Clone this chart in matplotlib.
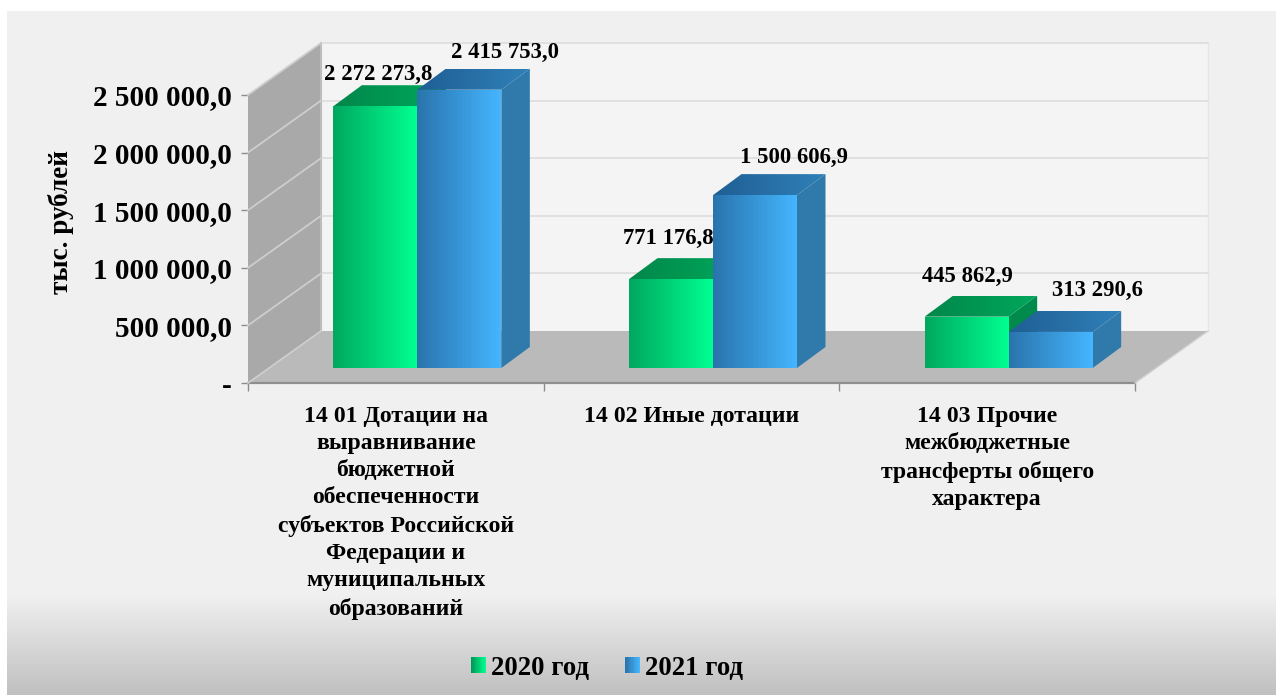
import numpy as np
import matplotlib
matplotlib.use("Agg")
import matplotlib.pyplot as plt
from matplotlib.colors import LinearSegmentedColormap
from matplotlib.legend_handler import HandlerBase
from matplotlib.patches import Polygon, Rectangle

categories = [
    "14 01 Дотации на\nвыравнивание\nбюджетной\nобеспеченности\nсубъектов Российской\nФедерации и\nмуниципальных\nобразований",
    "14 02 Иные дотации",
    "14 03 Прочие\nмежбюджетные\nтрансферты общего\nхарактера",
]
series_names = ["2020 год", "2021 год"]
values_2020 = [2272273.8, 771176.8, 445862.9]
values_2021 = [2415753.0, 1500606.9, 313290.6]
labels_2020 = ["2 272 273,8", "771 176,8", "445 862,9"]
labels_2021 = ["2 415 753,0", "1 500 606,9", "313 290,6"]
y_ticks = [0, 500000, 1000000, 1500000, 2000000, 2500000]
y_tick_labels = ["-", "500 000,0", "1 000 000,0", "1 500 000,0", "2 000 000,0", "2 500 000,0"]
y_title = "тыс. рублей"

W, H = 1276, 695
plt.rcParams["font.family"] = ["Liberation Serif", "DejaVu Serif"]
plt.rcParams["font.weight"] = "bold"
fig = plt.figure(figsize=(W / 100, H / 100), dpi=100, facecolor="white")

# page background
bg = fig.add_axes([0, 0, 1, 1], zorder=0)
bg.set_xlim(0, W); bg.set_ylim(H, 0); bg.axis("off")
bg.add_patch(Rectangle((7, 11), W - 7, H - 11, fc="#f0f0f0", ec="none"))
bg_cmap = LinearSegmentedColormap.from_list("bg", ["#f0f0f0", "#c0c0c0"])
bg.imshow(np.linspace(0, 1, 100)[:, None], extent=(7, W, H, 595), cmap=bg_cmap, aspect="auto", zorder=1)
bg.set_xlim(0, W); bg.set_ylim(H, 0)

# plot axes: front plane of the pseudo-3D box
L, R, T, B = 248, 1135, 95, 383
ax = fig.add_axes([L / W, 1 - B / H, (R - L) / W, (B - T) / H], zorder=1)
ax.patch.set_alpha(0)
XMAX, YMAX = 3.0, 2500000.0
ax.set_xlim(0, XMAX); ax.set_ylim(0, YMAX)
PX, PY = XMAX / (R - L), YMAX / (B - T)
for s in ax.spines.values():
    s.set_visible(False)

def poly(pts, color, z, ec="none", lw=0):
    p = Polygon(pts, closed=True, fc=color, ec=ec, lw=lw, zorder=z, clip_on=False)
    ax.add_patch(p)
    return p

def grad(pts, c0, c1, z):
    pts = np.array(pts)
    clip = Polygon(pts, closed=True, transform=ax.transData, fc="none", ec="none")
    cmap = LinearSegmentedColormap.from_list("g", [c0, c1])
    im = ax.imshow(np.linspace(0, 1, 64)[None, :], cmap=cmap, aspect="auto", zorder=z,
                   extent=(pts[:, 0].min(), pts[:, 0].max(), pts[:, 1].min(), pts[:, 1].max()),
                   origin="lower")
    im.set_clip_box(fig.bbox)
    im.set_clip_path(clip)

DX, DY = 73 * PX, 52 * PY  # box depth
# back wall
poly([(DX, DY), (XMAX + DX, DY), (XMAX + DX, YMAX + DY), (DX, YMAX + DY)], "#f4f4f4", 1)
ax.plot([XMAX + DX, XMAX + DX], [DY, YMAX + DY], color="#e6e6e6", lw=1, zorder=1.1, clip_on=False)
# left wall
poly([(0, 0), (DX, DY), (DX, YMAX + DY), (0, YMAX)], "#a9a9a9", 2)
ax.plot([DX, DX], [DY, YMAX + DY], color="#bdbdbd", lw=1.5, zorder=2.1, clip_on=False)
# floor
poly([(0, 0), (XMAX, 0), (XMAX + DX, DY), (DX, DY)], "#bababa", 2)
ax.plot([0, XMAX], [0, 0], color="#8e8e8e", lw=1.6, zorder=2.2, clip_on=False)
ax.plot([0, DX], [0, DY], color="#cfcfcf", lw=1.2, zorder=2.2, clip_on=False)
ax.plot([XMAX, XMAX + DX], [0, DY], color="#d0d0d0", lw=1, zorder=2.2, clip_on=False)
# gridlines
for v in y_ticks[1:]:
    ax.plot([DX, XMAX + DX], [v + DY, v + DY], color="#e0e0e0", lw=1.4, zorder=1.2, clip_on=False)
    ax.plot([0, DX], [v, v + DY], color="#cdcdcd", lw=1.3, zorder=2.3, clip_on=False)

BAR_W = 84 * PX
OFF_X, OFF_Y = 21.5 * PX, 15 * PY
BDX, BDY = 28.5 * PX, 21 * PY
STYLES = [
    dict(front=("#00a860", "#00ff90"), top=("#00874a", "#00a85c"), side="#008a4c", swatch=("#009a58", "#00ff90")),
    dict(front=("#2a74ad", "#45b6ff"), top=("#1f5f95", "#2f80b8"), side="#2f79ab", swatch=("#2a74ad", "#45b6ff")),
]

def bar3d(x0, v, st, z):
    x1 = x0 + BAR_W
    y0 = OFF_Y
    y1 = OFF_Y + v
    poly([(x1, y0), (x1 + BDX, y0 + BDY), (x1 + BDX, y1 + BDY), (x1, y1)], st["side"], z)
    grad([(x0, y1), (x1, y1), (x1 + BDX, y1 + BDY), (x0 + BDX, y1 + BDY)], *st["top"], z + 0.1)
    grad([(x0, y0), (x1, y0), (x1, y1), (x0, y1)], *st["front"], z + 0.2)

label_offsets = [[(3, 32), (-3, 41), (1, 40)], [(46, 37), (39, 38), (47, 41)]]
for s, (vals, labs) in enumerate([(values_2020, labels_2020), (values_2021, labels_2021)]):
    for i, (v, lab) in enumerate(zip(vals, labs)):
        x0 = i + 0.5 + OFF_X + (s - 1) * BAR_W
        bar3d(x0, v, STYLES[s], 3 + i + s * 0.5)
        dx, dy = label_offsets[s][i]
        ax.annotate(lab, xy=(x0 + BAR_W / 2, v + OFF_Y), xytext=(dx * 0.72, dy * 0.72),
                    textcoords="offset points", ha="center", va="center",
                    fontsize=16.4, fontweight="bold", color="black", zorder=10,
                    annotation_clip=False)

ax.set_xlim(0, XMAX); ax.set_ylim(0, YMAX)
ax.set_yticks(y_ticks, y_tick_labels, fontsize=21, fontweight="bold")
ax.tick_params(axis="y", length=5, width=1, color="#8c8c8c", pad=6.5)
ax.set_xticks([0, 1, 2, 3], ["", "", "", ""])
ax.tick_params(axis="x", which="major", length=5.5, width=1, color="#8c8c8c")
ax.set_xticks([0.5, 1.5, 2.5], categories, minor=True, fontsize=17.1, fontweight="bold", linespacing=1.385)
ax.tick_params(axis="x", which="minor", length=0, pad=16.5)
ax.set_ylabel(y_title, fontsize=19.5, fontweight="bold")
ax.yaxis.set_label_coords((74 - L) / (R - L), (B - 222) / (B - T))

class GradHandler(HandlerBase):
    def create_artists(self, legend, orig, xd, yd, w, h, fs, trans):
        c0, c1 = orig.get_label_colors
        cmap = LinearSegmentedColormap.from_list("s", [c0, c1])
        n = 12
        return [Rectangle((-xd + w * k / n, -yd), w / n + 0.2, h, fc=cmap(k / (n - 1)), ec="none", transform=trans)
                for k in range(n)]

handles = []
for st, nm in zip(STYLES, series_names):
    h = Rectangle((0, 0), 1, 1, label=nm)
    h.get_label_colors = st["swatch"]
    handles.append(h)
leg = fig.legend(handles=handles, loc="center", bbox_to_anchor=(607 / W, 1 - 668 / H),
                 bbox_transform=fig.transFigure, ncol=2, frameon=False,
                 prop={"family": "Liberation Serif", "weight": "bold", "size": 19.3},
                 handlelength=0.56, handleheight=0.56, handletextpad=0.18, columnspacing=1.35,
                 handler_map={h: GradHandler() for h in handles})

fig.savefig("out.png", dpi=100)
